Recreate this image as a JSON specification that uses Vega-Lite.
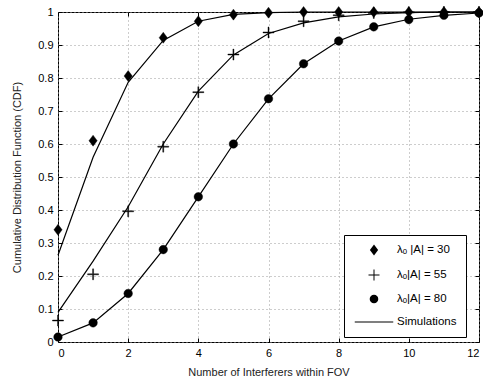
{
  "$schema": "https://vega.github.io/schema/vega-lite/v6.json",
  "width": 421,
  "height": 330,
  "padding": {"left": 11, "top": 5, "right": 5, "bottom": 5},
  "background": "white",
  "datasets": {
    "sim": [
      {"n": 0, "cdf": 0.263, "series": "30"}, {"n": 1, "cdf": 0.56, "series": "30"}, {"n": 2, "cdf": 0.787, "series": "30"},
      {"n": 3, "cdf": 0.914, "series": "30"}, {"n": 4, "cdf": 0.972, "series": "30"}, {"n": 5, "cdf": 0.993, "series": "30"},
      {"n": 6, "cdf": 0.998, "series": "30"}, {"n": 7, "cdf": 1.0, "series": "30"}, {"n": 8, "cdf": 1.0, "series": "30"},
      {"n": 9, "cdf": 1.0, "series": "30"}, {"n": 10, "cdf": 1.0, "series": "30"}, {"n": 11, "cdf": 1.0, "series": "30"},
      {"n": 12, "cdf": 1.0, "series": "30"},
      {"n": 0, "cdf": 0.09, "series": "55"}, {"n": 1, "cdf": 0.245, "series": "55"}, {"n": 2, "cdf": 0.41, "series": "55"},
      {"n": 3, "cdf": 0.6, "series": "55"}, {"n": 4, "cdf": 0.76, "series": "55"}, {"n": 5, "cdf": 0.87, "series": "55"},
      {"n": 6, "cdf": 0.935, "series": "55"}, {"n": 7, "cdf": 0.967, "series": "55"}, {"n": 8, "cdf": 0.985, "series": "55"},
      {"n": 9, "cdf": 0.994, "series": "55"}, {"n": 10, "cdf": 0.998, "series": "55"}, {"n": 11, "cdf": 1.0, "series": "55"},
      {"n": 12, "cdf": 1.0, "series": "55"},
      {"n": 0, "cdf": 0.015, "series": "80"}, {"n": 1, "cdf": 0.058, "series": "80"}, {"n": 2, "cdf": 0.147, "series": "80"},
      {"n": 3, "cdf": 0.28, "series": "80"}, {"n": 4, "cdf": 0.44, "series": "80"}, {"n": 5, "cdf": 0.6, "series": "80"},
      {"n": 6, "cdf": 0.737, "series": "80"}, {"n": 7, "cdf": 0.843, "series": "80"}, {"n": 8, "cdf": 0.912, "series": "80"},
      {"n": 9, "cdf": 0.955, "series": "80"}, {"n": 10, "cdf": 0.978, "series": "80"}, {"n": 11, "cdf": 0.99, "series": "80"},
      {"n": 12, "cdf": 0.997, "series": "80"}
    ],
    "ana": [
      {"n": 0, "cdf": 0.34, "series": "λₒ |A| = 30"}, {"n": 1, "cdf": 0.61, "series": "λₒ |A| = 30"}, {"n": 2, "cdf": 0.806, "series": "λₒ |A| = 30"},
      {"n": 3, "cdf": 0.922, "series": "λₒ |A| = 30"}, {"n": 4, "cdf": 0.972, "series": "λₒ |A| = 30"}, {"n": 5, "cdf": 0.992, "series": "λₒ |A| = 30"},
      {"n": 6, "cdf": 0.998, "series": "λₒ |A| = 30"}, {"n": 7, "cdf": 1.0, "series": "λₒ |A| = 30"}, {"n": 8, "cdf": 1.0, "series": "λₒ |A| = 30"},
      {"n": 9, "cdf": 1.0, "series": "λₒ |A| = 30"}, {"n": 10, "cdf": 1.0, "series": "λₒ |A| = 30"}, {"n": 11, "cdf": 1.0, "series": "λₒ |A| = 30"},
      {"n": 12, "cdf": 1.0, "series": "λₒ |A| = 30"},
      {"n": 0, "cdf": 0.065, "series": "λₒ|A| = 55"}, {"n": 1, "cdf": 0.205, "series": "λₒ|A| = 55"}, {"n": 2, "cdf": 0.396, "series": "λₒ|A| = 55"},
      {"n": 3, "cdf": 0.592, "series": "λₒ|A| = 55"}, {"n": 4, "cdf": 0.757, "series": "λₒ|A| = 55"}, {"n": 5, "cdf": 0.871, "series": "λₒ|A| = 55"},
      {"n": 6, "cdf": 0.938, "series": "λₒ|A| = 55"}, {"n": 7, "cdf": 0.972, "series": "λₒ|A| = 55"}, {"n": 8, "cdf": 0.99, "series": "λₒ|A| = 55"},
      {"n": 9, "cdf": 0.997, "series": "λₒ|A| = 55"}, {"n": 10, "cdf": 0.999, "series": "λₒ|A| = 55"}, {"n": 11, "cdf": 1.0, "series": "λₒ|A| = 55"},
      {"n": 12, "cdf": 1.0, "series": "λₒ|A| = 55"},
      {"n": 0, "cdf": 0.015, "series": "λₒ|A| = 80"}, {"n": 1, "cdf": 0.058, "series": "λₒ|A| = 80"}, {"n": 2, "cdf": 0.147, "series": "λₒ|A| = 80"},
      {"n": 3, "cdf": 0.28, "series": "λₒ|A| = 80"}, {"n": 4, "cdf": 0.44, "series": "λₒ|A| = 80"}, {"n": 5, "cdf": 0.6, "series": "λₒ|A| = 80"},
      {"n": 6, "cdf": 0.737, "series": "λₒ|A| = 80"}, {"n": 7, "cdf": 0.843, "series": "λₒ|A| = 80"}, {"n": 8, "cdf": 0.912, "series": "λₒ|A| = 80"},
      {"n": 9, "cdf": 0.955, "series": "λₒ|A| = 80"}, {"n": 10, "cdf": 0.977, "series": "λₒ|A| = 80"}, {"n": 11, "cdf": 0.99, "series": "λₒ|A| = 80"},
      {"n": 12, "cdf": 0.997, "series": "λₒ|A| = 80"}
    ]
  },
  "resolve": {"axis": {"x": "independent", "y": "independent"}},
  "layer": [
    {
      "data": {"name": "sim"},
      "mark": {"type": "line", "color": "black", "strokeWidth": 1.2},
      "encoding": {
        "x": {"field": "n", "type": "quantitative", "scale": {"domain": [0, 12], "nice": false},
          "axis": {"title": "Number of Interferers within FOV", "values": [0, 2, 4, 6, 8, 10, 12], "titlePadding": 8}},
        "y": {"field": "cdf", "type": "quantitative", "scale": {"domain": [0, 1], "nice": false},
          "axis": {"title": "Cumulative Distribution Function (CDF)", "values": [0, 0.1, 0.2, 0.3, 0.4, 0.5, 0.6, 0.7, 0.8, 0.9, 1], "format": ".1~f", "titlePadding": 15}},
        "detail": {"field": "series", "type": "nominal"}
      }
    },
    {
      "data": {"name": "ana"},
      "mark": {"type": "point", "filled": true, "fill": "black", "stroke": "black", "strokeWidth": 0.4, "opacity": 1, "size": 121},
      "encoding": {
        "x": {"field": "n", "type": "quantitative",
          "axis": {"orient": "top", "labels": false, "title": null, "grid": false, "values": [0, 2, 4, 6, 8, 10, 12]}},
        "y": {"field": "cdf", "type": "quantitative",
          "axis": {"orient": "right", "labels": false, "title": null, "grid": false, "values": [0, 0.1, 0.2, 0.3, 0.4, 0.5, 0.6, 0.7, 0.8, 0.9, 1]}},
        "shape": {"field": "series", "type": "nominal",
          "scale": {"domain": ["λₒ |A| = 30", "λₒ|A| = 55", "λₒ|A| = 80", "Simulations"],
            "range": ["M-0.75,0L0,-1L0.75,0L0,1Z", "M-1,-0.09H-0.09V-1H0.09V-0.09H1V0.09H0.09V1H-0.09V0.09H-1Z", "M-0.78,0A0.78,0.78,0,1,1,0.78,0A0.78,0.78,0,1,1,-0.78,0Z", "M-3.5,-0.1H3.5V0.1H-3.5Z"]},
          "legend": {"title": null, "orient": "none", "legendX": 286, "legendY": 223}}
      }
    }
  ],
  "config": {
    "font": "Liberation Sans",
    "view": {"stroke": "black", "strokeWidth": 1},
    "axis": {
      "labelFont": "Liberation Sans",
      "titleFont": "Liberation Sans",
      "labelFontSize": 11,
      "titleFontSize": 11,
      "labelColor": "#000",
      "titleColor": "#222",
      "titleFontWeight": "normal",
      "domain": false,
      "tickColor": "#000",
      "tickSize": -4,
      "labelPadding": 9,
      "gridColor": "#9a9a9a",
      "gridDash": [1, 3],
      "gridWidth": 1
    },
    "legend": {
      "strokeColor": "black",
      "fillColor": "white",
      "padding": 9,
      "labelFont": "Liberation Sans",
      "labelFontSize": 11.5,
      "labelColor": "#000",
      "symbolFillColor": "black",
      "symbolStrokeColor": "black",
      "symbolStrokeWidth": 0.4,
      "symbolSize": 121,
      "symbolOffset": 15,
      "labelOffset": 17,
      "rowPadding": 11,
      "symbolOpacity": 1
    }
  }
}
